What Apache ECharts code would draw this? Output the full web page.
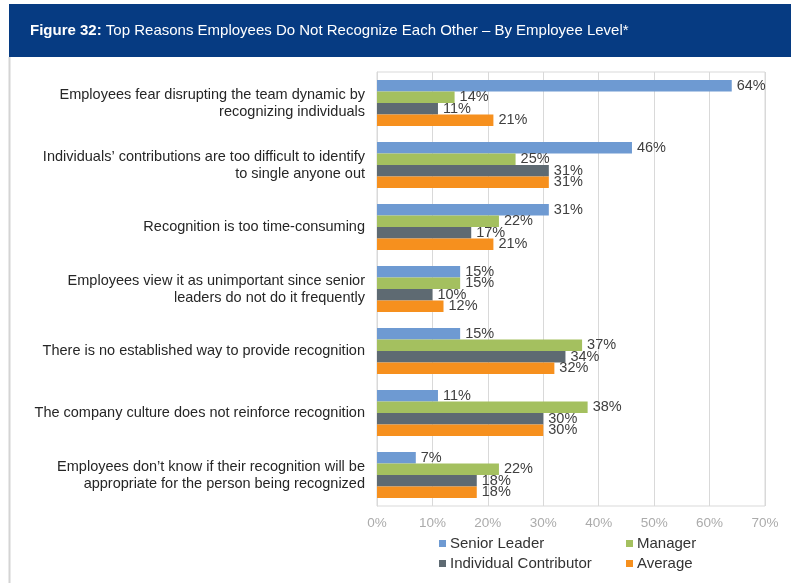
<!DOCTYPE html>
<html>
<head>
<meta charset="utf-8">
<script src="https://cdn.jsdelivr.net/npm/echarts@6/dist/echarts.min.js"></script>
<style>
html,body{margin:0;padding:0;background:#fff;}
#chart{width:791px;height:583px;}
</style>
</head>
<body>
<div id="chart"></div>
<script>
const categories = [
  "Employees fear disrupting the team dynamic by\nrecognizing individuals",
  "Individuals\u2019 contributions are too difficult to identify\nto single anyone out",
  "Recognition is too time-consuming",
  "Employees view it as unimportant since senior\nleaders do not do it frequently",
  "There is no established way to provide recognition",
  "The company culture does not reinforce recognition",
  "Employees don\u2019t know if their recognition will be\nappropriate for the person being recognized"
];
const seniorLeader = [64, 46, 31, 15, 15, 11, 7];
const manager = [14, 25, 22, 15, 37, 38, 22];
const individualContributor = [11, 31, 17, 10, 34, 30, 18];
const average = [21, 31, 21, 12, 32, 30, 18];
const xTicks = [0, 10, 20, 30, 40, 50, 60, 70];

const seriesNames = ["Senior Leader", "Manager", "Individual Contributor", "Average"];
const seriesData = [seniorLeader, manager, individualContributor, average];
const colors = ["#6E9AD2", "#A4C05F", "#5E6A72", "#F6901E"];
const FF = 'Liberation Sans, Arial, sans-serif';

const chart = echarts.init(document.getElementById('chart'));
const option = {
  animation: false,
  color: colors,
  grid: {left: 377, right: 26, top: 72, bottom: 77, show: true, borderColor: '#d9d9d9', borderWidth: 1},
  xAxis: {
    type: 'value', min: xTicks[0], max: xTicks[xTicks.length - 1], interval: 10,
    axisLine: {show: false}, axisTick: {show: false},
    splitLine: {lineStyle: {color: '#d9d9d9', width: 1}},
    axisLabel: {formatter: v => v + '%', color: '#ababab', fontSize: 13.5, margin: 10, fontFamily: FF}
  },
  yAxis: {
    type: 'category', data: categories, inverse: true,
    axisLine: {show: true, lineStyle: {color: '#d9d9d9'}}, axisTick: {show: false},
    axisLabel: {color: '#262626', fontSize: 14.5, lineHeight: 17, margin: 12, align: 'right', fontFamily: FF}
  },
  legend: [
    {data: [seriesNames[0], seriesNames[2]], orient: 'vertical', left: 439, top: 536, padding: 0, itemGap: 5, itemWidth: 7, itemHeight: 7, icon: 'rect',
     textStyle: {fontSize: 15, color: '#333', fontFamily: FF, padding: [0,0,0,-1]}},
    {data: [seriesNames[1], seriesNames[3]], orient: 'vertical', left: 626, top: 536, padding: 0, itemGap: 5, itemWidth: 7, itemHeight: 7, icon: 'rect',
     textStyle: {fontSize: 15, color: '#333', fontFamily: FF, padding: [0,0,0,-1]}}
  ],
  graphic: [
    {type: 'rect', left: 9, top: 4, shape: {width: 782, height: 53}, style: {fill: '#063B82'}},
    {type: 'line', shape: {x1: 9.5, y1: 57, x2: 9.5, y2: 583}, style: {stroke: '#d4d4d4', lineWidth: 2}},
    {type: 'text', left: 30, top: 23,
     style: {text: '{b|Figure 32:} Top Reasons Employees Do Not Recognize Each Other \u2013 By Employee Level*',
       fill: '#fff', fontSize: 15, fontFamily: FF,
       rich: {b: {fontWeight: 'bold', fill: '#fff', fontSize: 15, fontFamily: FF}}}}
  ],
  series: seriesNames.map((n, i) => ({
    name: n, type: 'bar', data: seriesData[i],
    barGap: '0%', barCategoryGap: '26%',
    label: {show: true, position: 'right', distance: 5, formatter: '{c}%', color: '#404040', fontSize: 14.5, fontFamily: FF}
  }))
};
chart.setOption(option);
</script>
</body>
</html>
